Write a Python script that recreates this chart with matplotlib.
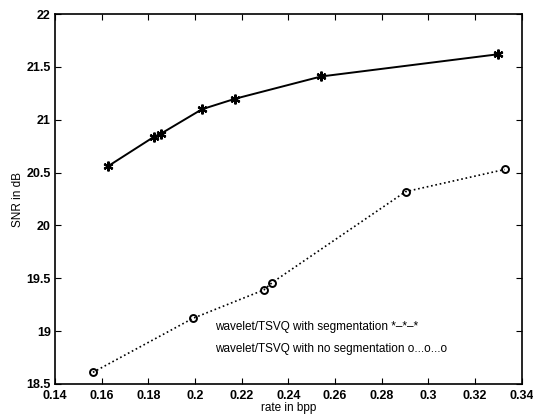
import matplotlib.pyplot as plt

plt.rcParams['font.family'] = ['Liberation Sans', 'DejaVu Sans']

# wavelet/TSVQ with segmentation
rate_seg = [0.1627, 0.1825, 0.1855, 0.2030, 0.2173, 0.2540, 0.3297]
snr_seg = [20.56, 20.84, 20.87, 21.10, 21.20, 21.41, 21.62]

# wavelet/TSVQ with no segmentation
rate_noseg = [0.1563, 0.1990, 0.2295, 0.2331, 0.2902, 0.3327]
snr_noseg = [18.61, 19.12, 19.39, 19.46, 20.32, 20.53]

xticks = [0.14, 0.16, 0.18, 0.2, 0.22, 0.24, 0.26, 0.28, 0.3, 0.32, 0.34]
xticklabels = ['0.14', '0.16', '0.18', '0.2', '0.22', '0.24', '0.26', '0.28', '0.3', '0.32', '0.34']
yticks = [18.5, 19, 19.5, 20, 20.5, 21, 21.5, 22]
yticklabels = ['18.5', '19', '19.5', '20', '20.5', '21', '21.5', '22']

fig = plt.figure(figsize=(5.33, 4.16), dpi=100)
ax = fig.add_axes([0.103, 0.077, 0.876, 0.889])

ax.plot(rate_seg, snr_seg, 'k-', lw=1.4, marker=(6, 2, 0), ms=7, mew=1.6)
ax.plot(rate_noseg, snr_noseg, 'k:', lw=1.2, marker='o', ms=5, mfc='none', mew=1.4)

ax.text(0.2087, 19.04, 'wavelet/TSVQ with segmentation *\u2013*\u2013*', fontsize=8.5, va='center')
ax.text(0.2087, 18.83, 'wavelet/TSVQ with no segmentation o...o...o', fontsize=8.5, va='center')

ax.set_xlim(0.14, 0.34)
ax.set_ylim(18.5, 22)
ax.set_xticks(xticks)
ax.set_xticklabels(xticklabels)
ax.set_yticks(yticks)
ax.set_yticklabels(yticklabels)
ax.tick_params(direction='in', top=True, right=True, labelsize=9, length=4)
ax.tick_params(axis='x', pad=4)
ax.tick_params(axis='y', pad=3)
for lab in ax.get_xticklabels() + ax.get_yticklabels():
    lab.set_fontweight('bold')
for s in ax.spines.values():
    s.set_linewidth(1.2)

ax.set_xlabel('rate in bpp', fontsize=8.5, labelpad=0)
ax.set_ylabel('SNR in dB', fontsize=8.5, labelpad=2)

fig.savefig('out.png', dpi=100)
